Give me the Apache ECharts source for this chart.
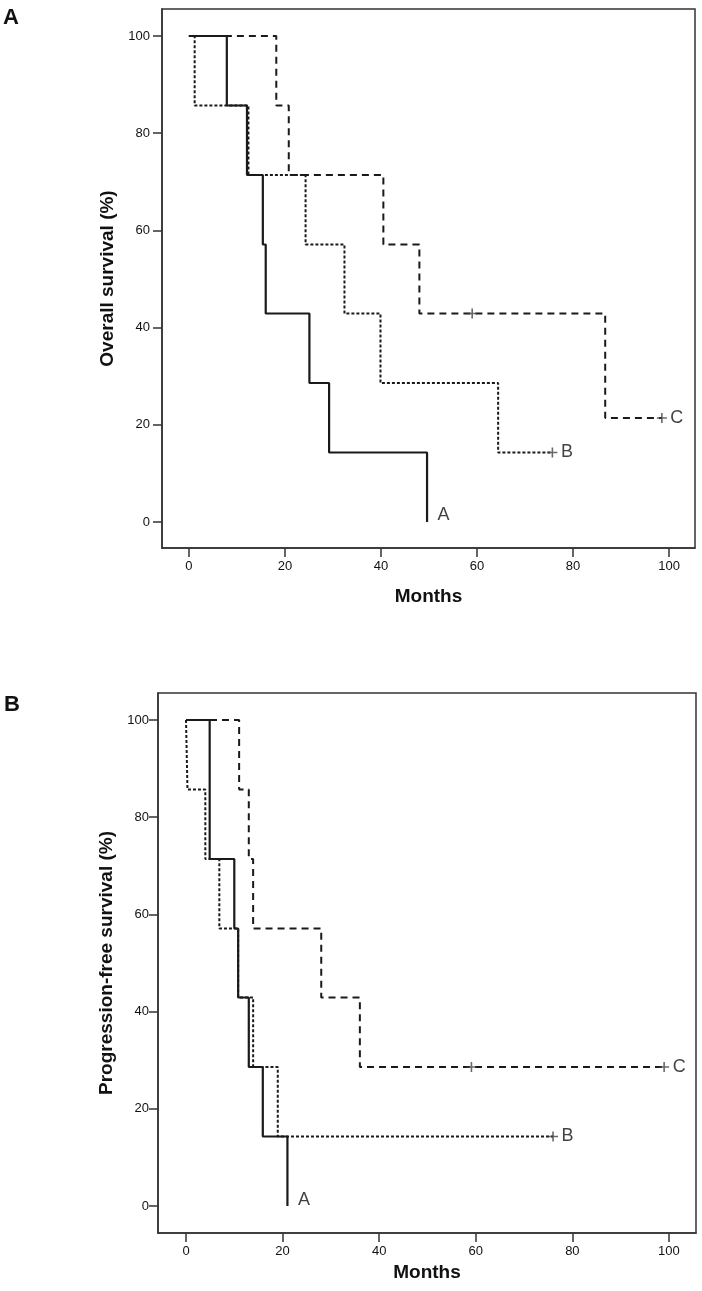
<!DOCTYPE html>
<html>
<head>
<meta charset="utf-8">
<script src="https://cdn.jsdelivr.net/npm/echarts@6/dist/echarts.min.js"></script>
<style>
    html, body { margin: 0; padding: 0; background: #fff; }
    #km { width: 702px; height: 1291px; }
</style>
</head>
<body>
<div id="km"></div>
<script>
    // overall survival: [months, % surviving] after each event
    const osA = [[0, 100], [7.9, 85.7], [12.1, 71.4], [15.4, 57.1], [16.0, 42.9], [25.1, 28.6], [29.2, 14.3], [49.6, 0]];
    const osB = [[0, 100], [1.2, 85.7], [12.4, 71.4], [24.3, 57.1], [32.4, 42.9], [39.9, 28.6], [64.4, 14.3], [75.7, 14.3]];
    const osC = [[0, 100], [18.2, 85.7], [20.8, 71.4], [40.5, 57.1], [48.0, 42.9], [86.7, 21.4], [98.5, 21.4]];
    const osCensB = [[75.7, 14.3]];
    const osCensC = [[59.0, 42.9], [98.5, 21.4]];

    // progression-free survival
    const pfsA = [[0, 100], [4.9, 71.4], [10.0, 57.1], [10.8, 42.9], [13.0, 28.6], [15.9, 14.3], [21.0, 0]];
    const pfsB = [[0, 100], [0.3, 85.7], [4.0, 71.4], [6.9, 57.1], [10.8, 42.9], [13.9, 28.6], [19.0, 14.3], [76.0, 14.3]];
    const pfsC = [[0, 100], [11.0, 85.7], [13.0, 71.4], [13.9, 57.1], [28.0, 42.9], [36.0, 28.6], [99.0, 28.6]];
    const pfsCensB = [[76.0, 14.3]];
    const pfsCensC = [[59.1, 28.6], [99.0, 28.6]];

    const tickVals = [0, 20, 40, 60, 80, 100];

    const ink = '#1a1a1a';
    const boxColor = '#333';
    const font = '"Liberation Sans", Arial, Helvetica, sans-serif';

    function xAx(gi, min, max, gap) {
        return {
            gridIndex: gi, type: 'value', min: min, max: max,
            name: 'Months', nameLocation: 'middle', nameGap: gap,
            nameTextStyle: { fontFamily: font, fontWeight: 'bold', fontSize: 19, color: '#111' },
            axisLine: { show: true, onZero: false, lineStyle: { color: boxColor, width: 1.5 } },
            axisTick: { show: true, customValues: tickVals, length: 9, lineStyle: { color: boxColor, width: 1.5 } },
            axisLabel: { customValues: tickVals, margin: 12, fontFamily: font, fontSize: 13, color: '#111' },
            splitLine: { show: false }
        };
    }
    function yAx(gi, min, max, title, gap, margin) {
        return {
            gridIndex: gi, type: 'value', min: min, max: max,
            name: title, nameLocation: 'middle', nameGap: gap, nameRotate: 90,
            nameTextStyle: { fontFamily: font, fontWeight: 'bold', fontSize: 19, color: '#111' },
            axisLine: { show: true, onZero: false, lineStyle: { color: boxColor, width: 1.5 } },
            axisTick: { show: true, customValues: tickVals, length: 9, lineStyle: { color: boxColor, width: 1.5 } },
            axisLabel: { customValues: tickVals, margin: margin, fontFamily: font, fontSize: 13, color: '#111' },
            splitLine: { show: false }
        };
    }
    function curve(data, gi, type, width, z) {
        return {
            type: 'line', xAxisIndex: gi, yAxisIndex: gi, data: data, step: 'end',
            symbol: 'none', silent: true, z: z,
            lineStyle: { color: ink, width: width, type: type }
        };
    }
    function censor(data, gi) {
        return {
            type: 'scatter', xAxisIndex: gi, yAxisIndex: gi, data: data, silent: true, z: 6,
            symbol: 'path://M5,0L5,10M0,5L10,5', symbolSize: 10,
            itemStyle: { color: 'rgba(0,0,0,0)', borderColor: '#444', borderWidth: 1.6 }
        };
    }
    function tag(series, text, gi, dist, dy) {
        return {
            type: 'scatter', xAxisIndex: gi, yAxisIndex: gi, silent: true, z: 7,
            data: [series[series.length - 1]], symbolSize: 1,
            itemStyle: { color: 'rgba(0,0,0,0)' },
            label: { show: true, position: 'right', distance: dist, offset: [0, dy], formatter: text,
                fontFamily: font, fontSize: 18, color: '#111' }
        };
    }

    const chart = echarts.init(document.getElementById('km'));
    chart.setOption({
        animation: false,
        backgroundColor: '#fff',
        title: [
            { text: 'A', left: 3, top: 7, padding: 0, textStyle: { fontFamily: font, fontWeight: 'bold', fontSize: 22, color: '#111' } },
            { text: 'B', left: 4, top: 694, padding: 0, textStyle: { fontFamily: font, fontWeight: 'bold', fontSize: 22, color: '#111' } }
        ],
        grid: [
            { left: 162, top: 9, width: 533, height: 539, show: true, borderColor: boxColor, borderWidth: 1.5, backgroundColor: '#fff' },
            { left: 158, top: 693, width: 538, height: 540, show: true, borderColor: boxColor, borderWidth: 1.5, backgroundColor: '#fff' }
        ],
        xAxis: [xAx(0, -5.6, 105.4, 39), xAx(1, -5.8, 105.6, 30)],
        yAxis: [yAx(0, -5.35, 105.56, 'Overall survival (%)', 44, 12), yAx(1, -5.56, 105.56, 'Progression-free survival (%)', 41, 9)],
        series: [
            curve(osC, 0, [7, 5], 2, 2),
            curve(osB, 0, [3, 2], 2, 3),
            curve(osA, 0, 'solid', 2.2, 4),
            censor(osCensB, 0),
            censor(osCensC, 0),
            tag(osA, 'A', 0, 10, -7),
            tag(osB, 'B', 0, 8, 0),
            tag(osC, 'C', 0, 8, 0),
            curve(pfsC, 1, [7, 5], 2, 2),
            curve(pfsB, 1, [3, 2], 2, 3),
            curve(pfsA, 1, 'solid', 2.2, 4),
            censor(pfsCensB, 1),
            censor(pfsCensC, 1),
            tag(pfsA, 'A', 1, 10, -6),
            tag(pfsB, 'B', 1, 8, 0),
            tag(pfsC, 'C', 1, 8, 0)
        ]
    });
</script>
</body>
</html>
